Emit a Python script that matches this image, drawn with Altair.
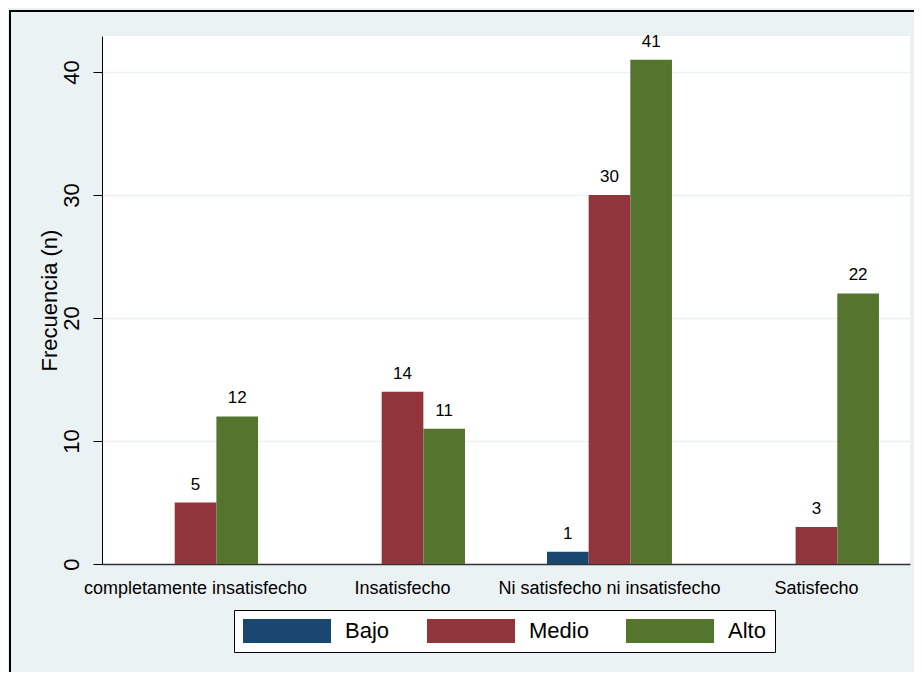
import altair as alt
import pandas as pd

categorias = ["completamente insatisfecho", "Insatisfecho",
              "Ni satisfecho ni insatisfecho", "Satisfecho"]
niveles = ["Bajo", "Medio", "Alto"]
bajo = [0, 0, 1, 0]
medio = [5, 14, 30, 3]
alto = [12, 11, 41, 22]
colores = ["#1a476f", "#90353b", "#55752f"]
y_ticks = [0, 10, 20, 30, 40]

rows = []
for serie, vals in zip(niveles, [bajo, medio, alto]):
    for c, v in zip(categorias, vals):
        rows.append({"categoria": c, "nivel": serie, "n": v})
df = pd.DataFrame(rows)

FONT = "Liberation Sans"
LEG_PATH = "M-1,-0.273H1V0.273H-1Z"

x = alt.X("categoria:N", sort=categorias,
          scale=alt.Scale(paddingInner=0.396, paddingOuter=0.15),
          axis=alt.Axis(title=None, labelAngle=0, labelFontSize=18, labelPadding=15,
                        labelLimit=0, ticks=False, domainColor="#333333", domainWidth=1.5,
                        labelColor="black", grid=False, labelFont=FONT))
xo = alt.XOffset("nivel:N", sort=niveles, scale=alt.Scale(paddingInner=0, paddingOuter=0))
y = alt.Y("n:Q", scale=alt.Scale(domain=[0, 42.93], nice=False),
          axis=alt.Axis(title="Frecuencia (n)", values=y_ticks, labelAngle=270,
                        labelFontSize=22, labelPadding=10, tickSize=9, tickColor="black",
                        domainColor="black", gridColor="#eaf2f3", gridWidth=1.5,
                        titleFontSize=22, titleFontWeight="normal", titlePadding=-1,
                        labelColor="black", titleColor="black",
                        labelFont=FONT, titleFont=FONT))
color = alt.Color("nivel:N", sort=niveles,
                  scale=alt.Scale(domain=niveles, range=colores),
                  legend=alt.Legend(title=None, orient="none", legendX=132, legendY=574,
                                    direction="horizontal", symbolType=LEG_PATH,
                                    symbolSize=7744, symbolStrokeWidth=0, symbolOpacity=1,
                                    clipHeight=24, labelFontSize=22, labelOffset=14,
                                    columnPadding=37, padding=9, fillColor="white",
                                    strokeColor="black", labelColor="black",
                                    labelFont=FONT))

bars = alt.Chart(df).mark_bar(opacity=1).encode(x=x, xOffset=xo, y=y, color=color)

labels = alt.Chart(df).transform_filter("datum.n > 0").mark_text(
    dy=-13, baseline="alphabetic", fontSize=17, font=FONT, color="black"
).encode(x=x, xOffset=xo, y=y, text="n:Q")

one = pd.DataFrame({"k": [0]})
top_rule = alt.Chart(one).mark_rule(color="black", strokeWidth=2).encode(
    x=alt.value(-93), x2=alt.value(812), y=alt.value(-25))
left_rule = alt.Chart(one).mark_rule(color="black", strokeWidth=2).encode(
    x=alt.value(-92), y=alt.value(-25), y2=alt.value(640))

chart = alt.layer(bars, labels, top_rule, left_rule).properties(
    width=808, height=528,
    autosize=alt.AutoSizeParams(type="none"),
    padding={"left": 94, "top": 28, "right": 4, "bottom": 108},
    background="#eaf2f3",
).configure_view(strokeWidth=0, fill="white")

chart.save("out.html", embed_options={"renderer": "svg", "actions": False})
